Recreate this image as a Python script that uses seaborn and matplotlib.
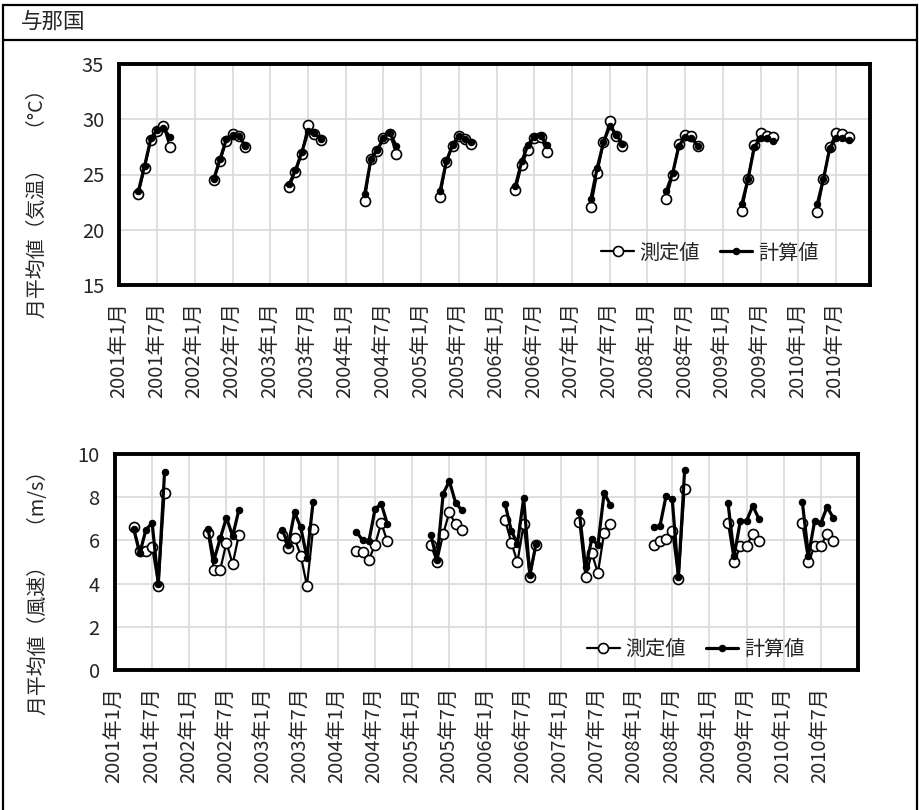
import matplotlib
matplotlib.use("Agg")
import matplotlib.pyplot as plt
from matplotlib.lines import Line2D
from matplotlib.patches import Rectangle
import numpy as np
import pandas as pd
import seaborn as sns

# ---- data: monthly means, April to September of each year ----
station = "与那国"
years = list(range(2001, 2011))
months = [4, 5, 6, 7, 8, 9]
series_names = ["測定値", "計算値"]

temp_measured = [
    [23.2, 25.6, 28.1, 28.9, 29.4, 27.5],
    [24.5, 26.2, 28.0, 28.7, 28.5, 27.5],
    [23.9, 25.2, 26.9, 29.5, 28.7, 28.1],
    [22.6, 26.4, 27.1, 28.3, 28.7, 26.9],
    [23.0, 26.1, 27.6, 28.5, 28.2, 27.8],
    [23.6, 25.9, 27.2, 28.3, 28.4, 27.0],
    [22.1, 25.1, 27.9, 29.8, 28.5, 27.6],
    [22.8, 25.0, 27.8, 28.6, 28.5, 27.6],
    [21.7, 24.6, 27.7, 28.8, 28.5, 28.4],
    [21.6, 24.6, 27.5, 28.8, 28.7, 28.4],
]
temp_calculated = [
    [23.5, 25.8, 28.3, 29.0, 29.2, 28.4],
    [24.6, 26.4, 28.2, 28.6, 28.5, 27.6],
    [24.1, 25.4, 27.0, 28.9, 28.8, 28.2],
    [23.2, 26.4, 27.2, 28.3, 28.8, 27.6],
    [23.5, 26.2, 27.7, 28.5, 28.2, 27.9],
    [24.0, 26.2, 27.7, 28.4, 28.5, 27.7],
    [22.8, 25.6, 27.9, 29.4, 28.6, 27.8],
    [23.5, 25.1, 27.6, 28.4, 28.3, 27.6],
    [22.3, 24.6, 27.5, 28.3, 28.3, 28.0],
    [22.3, 24.6, 27.4, 28.3, 28.3, 28.1],
]
wind_measured = [
    [6.60, 5.50, 5.50, 5.70, 3.90, 8.20],
    [6.35, 4.65, 4.65, 5.90, 4.90, 6.25],
    [6.25, 5.65, 6.10, 5.30, 3.90, 6.55],
    [5.50, 5.45, 5.10, 5.80, 6.80, 5.95],
    [5.80, 5.00, 6.30, 7.30, 6.75, 6.50],
    [6.95, 5.90, 5.00, 6.75, 4.30, 5.80],
    [6.85, 4.30, 5.40, 4.50, 6.35, 6.75],
    [5.80, 5.95, 6.05, 6.45, 4.20, 8.40],
    [6.80, 5.00, 5.75, 5.75, 6.30, 5.95],
    [6.80, 5.00, 5.75, 5.75, 6.30, 5.95],
]
wind_calculated = [
    [6.55, 5.40, 6.50, 6.80, 4.00, 9.15],
    [6.55, 5.10, 6.10, 7.05, 6.20, 7.40],
    [6.50, 5.80, 7.30, 6.60, 5.20, 7.80],
    [6.40, 6.00, 5.95, 7.45, 7.70, 6.75],
    [6.25, 5.10, 8.15, 8.75, 7.75, 7.40],
    [7.70, 6.45, 5.85, 7.95, 4.40, 5.85],
    [7.30, 4.75, 6.05, 5.80, 8.20, 7.65],
    [6.60, 6.65, 8.05, 7.90, 4.30, 9.25],
    [7.75, 5.30, 6.90, 6.90, 7.60, 7.00],
    [7.80, 5.30, 6.90, 6.80, 7.55, 7.05],
]

# tick labels every six months
tick_labels = [f"{y}年{m}月" for y in years for m in (1, 7)]

temp_ylabel = "月平均値（気温）　（°C）"
wind_ylabel = "月平均値（風速）　（m/s）"


def to_frame(measured, calculated):
    rows = []
    for name, table in zip(series_names, (measured, calculated)):
        for y, vals in zip(years, table):
            for mo, v in zip(months, vals):
                rows.append({"series": name, "year": y,
                             "t": (y - years[0]) * 12 + (mo - 1), "value": v})
    return pd.DataFrame(rows)


temp_df = to_frame(temp_measured, temp_calculated)
wind_df = to_frame(wind_measured, wind_calculated)

# ---- styling ----
sns.set_style("white")
plt.rcParams["font.family"] = ["Noto Sans CJK JP", "DejaVu Sans"]
plt.rcParams["axes.unicode_minus"] = False

FS = 14.5
TEXT = "#262626"
meas_style = dict(color="black", linewidth=1.6, marker="o", markersize=7.2,
                  markerfacecolor="white", markeredgecolor="black",
                  markeredgewidth=1.2)
calc_style = dict(color="black", linewidth=2.3, marker="o", markersize=4.6,
                  markerfacecolor="black", markeredgecolor="black",
                  markeredgewidth=0.8)

fig = plt.figure(figsize=(9.2, 8.1), dpi=100)

# outer frame and station header
fig.add_artist(Rectangle((3 / 920, -0.01), 914 / 920, 1 - 5 / 810 + 0.01,
                         transform=fig.transFigure, fill=False,
                         edgecolor="black", linewidth=1.6))
fig.add_artist(Line2D([3 / 920, 917 / 920], [1 - 40 / 810, 1 - 40 / 810],
                      transform=fig.transFigure, color="black", linewidth=1.6))
fig.text(21 / 920, 1 - 22 / 810, station, fontsize=15.5, va="center",
         ha="left", color=TEXT)

ax_t = fig.add_axes([119.5 / 920, 1 - 285 / 810, 750.5 / 920, 221 / 810])
ax_w = fig.add_axes([115 / 920, 1 - 670 / 810, 743 / 920, 216 / 810])


def draw_panel(ax, df, ylim, yticks, ylabel, xmax, legend_xy):
    ax.set_axisbelow(True)
    sub_m = df[df["series"] == series_names[0]]
    sub_c = df[df["series"] == series_names[1]]
    sns.lineplot(data=sub_m, x="t", y="value", units="year", estimator=None,
                 ax=ax, legend=False, zorder=3, **meas_style)
    sns.lineplot(data=sub_c, x="t", y="value", units="year", estimator=None,
                 ax=ax, legend=False, zorder=4, **calc_style)
    ax.set_xlim(0, xmax)
    ax.set_ylim(*ylim)
    ax.set_yticks(yticks)
    ax.set_yticklabels([str(v) for v in yticks], fontsize=FS)
    ax.set_xticks(np.arange(0, 120, 6))
    ax.set_xticklabels(tick_labels, rotation=90, fontsize=FS)
    ax.tick_params(axis="both", length=0, colors=TEXT)
    ax.tick_params(axis="y", pad=11)
    ax.tick_params(axis="x", pad=12)
    ax.set_xlabel("")
    ax.set_ylabel(ylabel, fontsize=14.3, color=TEXT)
    ax.grid(True, color="#d9d9d9", linewidth=1.2)
    for sp in ax.spines.values():
        sp.set_visible(True)
        sp.set_color("black")
        sp.set_linewidth(2.8)
    handles = [Line2D([], [], **meas_style), Line2D([], [], **calc_style)]
    leg = ax.legend(handles, series_names, loc="center",
                    bbox_to_anchor=legend_xy, ncol=2, frameon=False,
                    fontsize=FS, handlelength=1.6, handletextpad=0.3,
                    columnspacing=1.0, borderpad=0.2)
    for t in leg.get_texts():
        t.set_color(TEXT)


draw_panel(ax_t, temp_df, (15, 35), [15, 20, 25, 30, 35], temp_ylabel,
           119.4, (0.787, 0.145))
draw_panel(ax_w, wind_df, (0, 10), [0, 2, 4, 6, 8, 10], wind_ylabel,
           120, (0.782, 0.093))

ax_t.yaxis.set_label_coords(-0.095, 0.39)
ax_w.yaxis.set_label_coords(-0.089, 0.38)

fig.savefig("out.png", dpi=100)
